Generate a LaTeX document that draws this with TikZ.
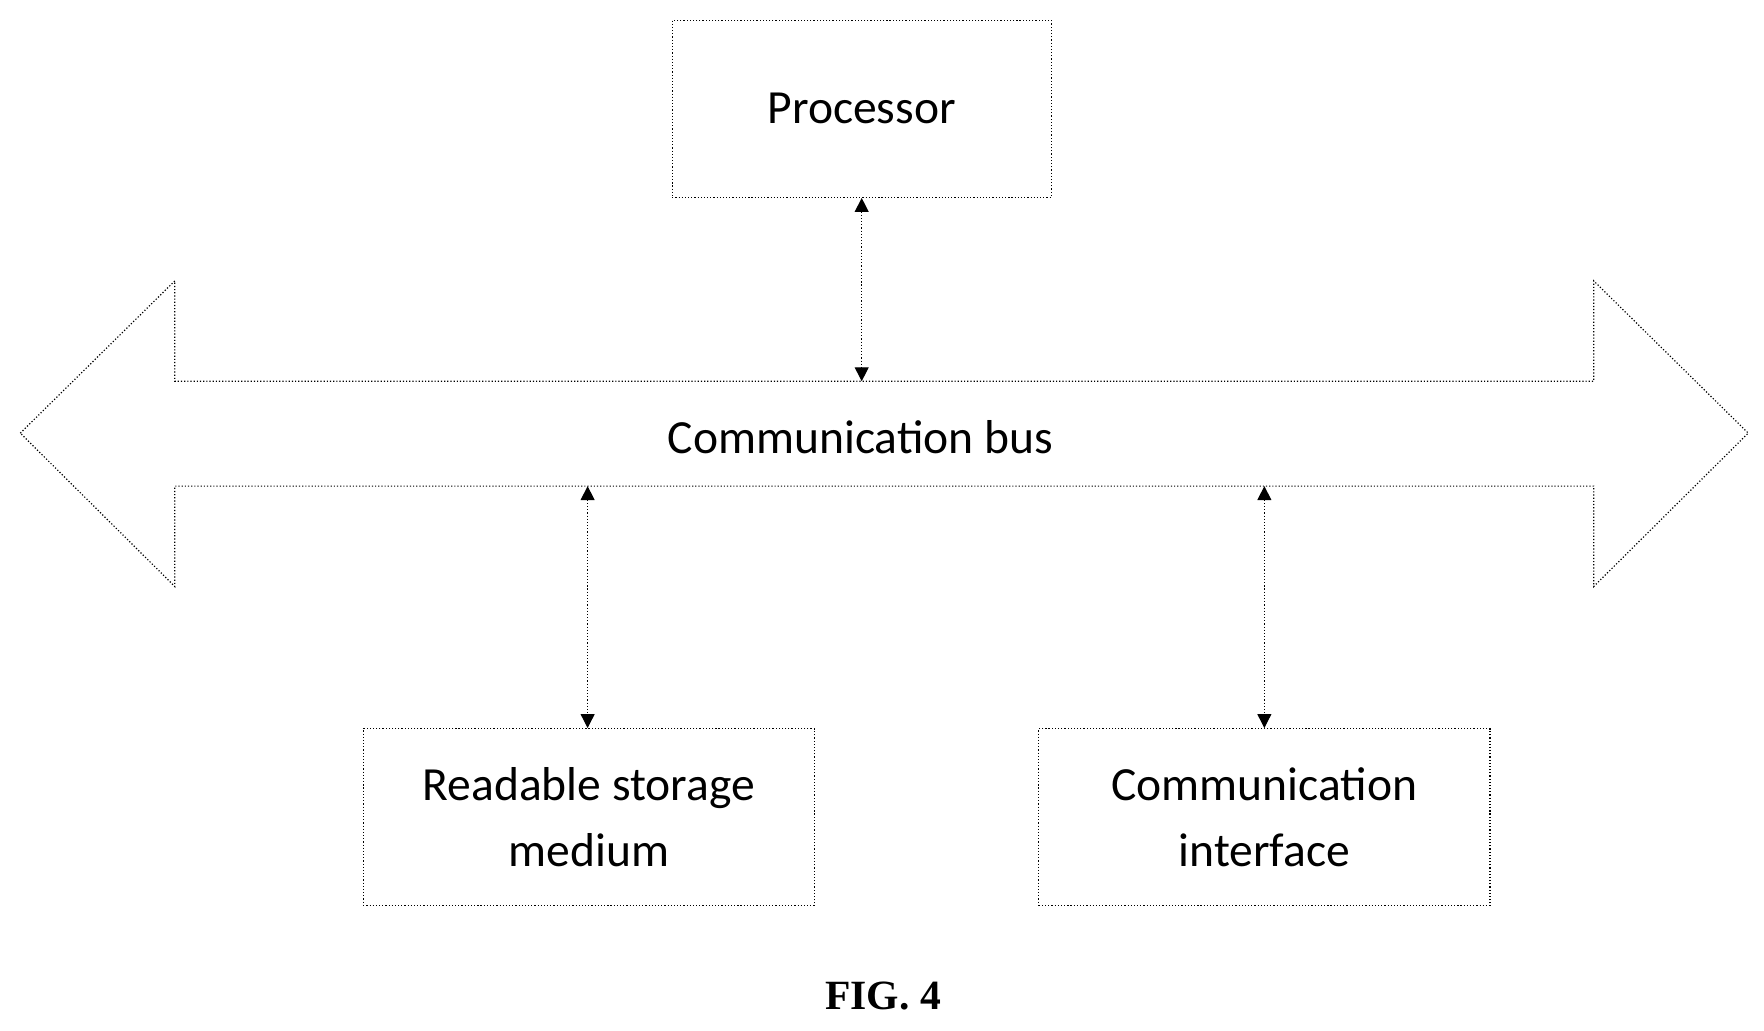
\documentclass[tikz,border=0pt]{standalone}
\usepackage{fontspec}
\setmainfont{Carlito}
\newfontfamily\figfont{Liberation Serif}
\usetikzlibrary{arrows.meta}
\begin{document}
\begin{tikzpicture}[x=0.02cm,y=-0.02cm,
  box/.style={draw,densely dotted,line width=0.6pt,align=center,font=\fontsize{24}{33}\selectfont},
  conn/.style={densely dotted,line width=0.6pt,{Triangle[width=7pt,length=7pt]}-{Triangle[width=7pt,length=7pt]}}]
\useasboundingbox (0,0) rectangle (1564,914);
\node[box,minimum width=336*0.02cm,minimum height=157*0.02cm] (proc) at (764,96.5) {Processor};
\node[box,minimum width=400*0.02cm,minimum height=157*0.02cm] (rsm) at (522,724.5) {Readable storage\\medium};
\node[box,minimum width=400*0.02cm,minimum height=157*0.02cm] (ci) at (1121,724.5) {Communication\\interface};
\draw[densely dotted,line width=0.6pt] (18,384) -- (155,249) -- (155,338) -- (1413,338) -- (1413,249) -- (1550,384) -- (1413,520) -- (1413,431) -- (155,431) -- (155,520) -- cycle;
\node[font=\fontsize{24}{30}\selectfont] (bus) at (763,388) {Communication bus};
\coordinate (b1) at (764,338);
\coordinate (b2) at (521,431);
\coordinate (b3) at (1121,431);
\draw[conn] (proc.south) -- (b1);
\draw[conn] (b2) -- (b2 |- rsm.north);
\draw[conn] (b3) -- (ci.north);
\node[font=\figfont\bfseries\fontsize{21}{25}\selectfont] (fig) at (783,883) {FIG. 4};
\end{tikzpicture}
\end{document}
